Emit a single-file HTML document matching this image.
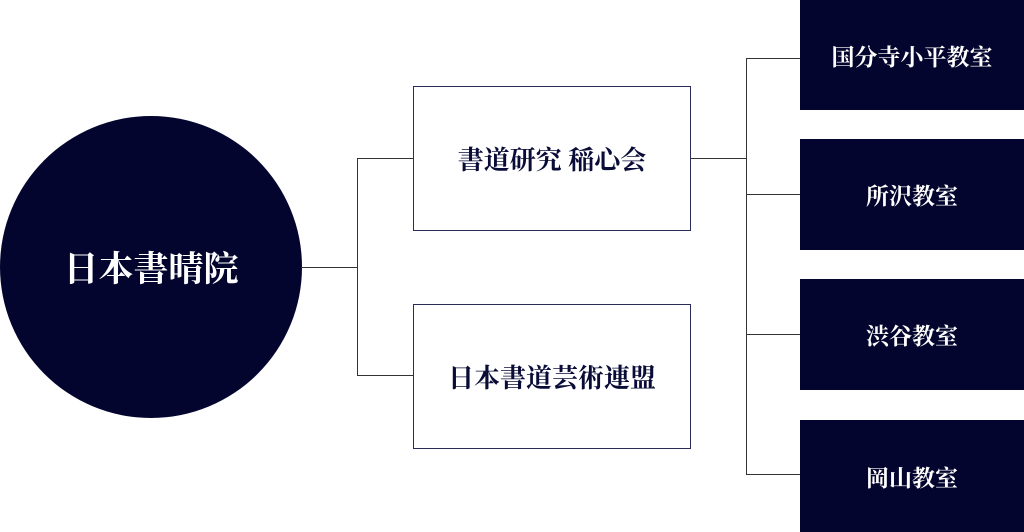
<!DOCTYPE html>
<html><head><meta charset="utf-8"><style>
body{margin:0;width:1024px;height:532px;background:#fff;position:relative;overflow:hidden;font-family:"Liberation Serif","Noto Serif CJK SC",serif;font-weight:bold}
.a{position:absolute;display:flex;align-items:center;justify-content:center}
.c{left:0;top:116px;width:302px;height:302px;border-radius:50%;background:#03052e;color:#fff;font-size:35px}
.b{left:413px;width:276px;height:143px;border:1px solid #2a2c55;color:#0a0c38;font-size:26px;background:#fff}
.r{left:800px;width:224px;background:#03052e;color:#fff;font-size:23px}
.l{position:absolute;background:#333}
</style></head><body>
<div class="a c">日本書晴院</div>
<div class="l" style="left:301px;top:267px;width:56px;height:1px"></div>
<div class="l" style="left:357px;top:158px;width:1px;height:218px"></div>
<div class="l" style="left:357px;top:158px;width:56px;height:1px"></div>
<div class="l" style="left:357px;top:375px;width:56px;height:1px"></div>
<div class="a b" style="top:86px">書道研究 稲心会</div>
<div class="a b" style="top:304px">日本書道芸術連盟</div>
<div class="l" style="left:691px;top:158px;width:55px;height:1px"></div>
<div class="l" style="left:746px;top:58px;width:1px;height:417px"></div>
<div class="l" style="left:746px;top:58px;width:54px;height:1px"></div>
<div class="l" style="left:746px;top:194px;width:54px;height:1px"></div>
<div class="l" style="left:746px;top:334px;width:54px;height:1px"></div>
<div class="l" style="left:746px;top:474px;width:54px;height:1px"></div>
<div class="a r" style="top:0;height:110px">国分寺小平教室</div>
<div class="a r" style="top:139px;height:111px">所沢教室</div>
<div class="a r" style="top:279px;height:111px">渋谷教室</div>
<div class="a r" style="top:420px;height:112px">岡山教室</div>
</body></html>
